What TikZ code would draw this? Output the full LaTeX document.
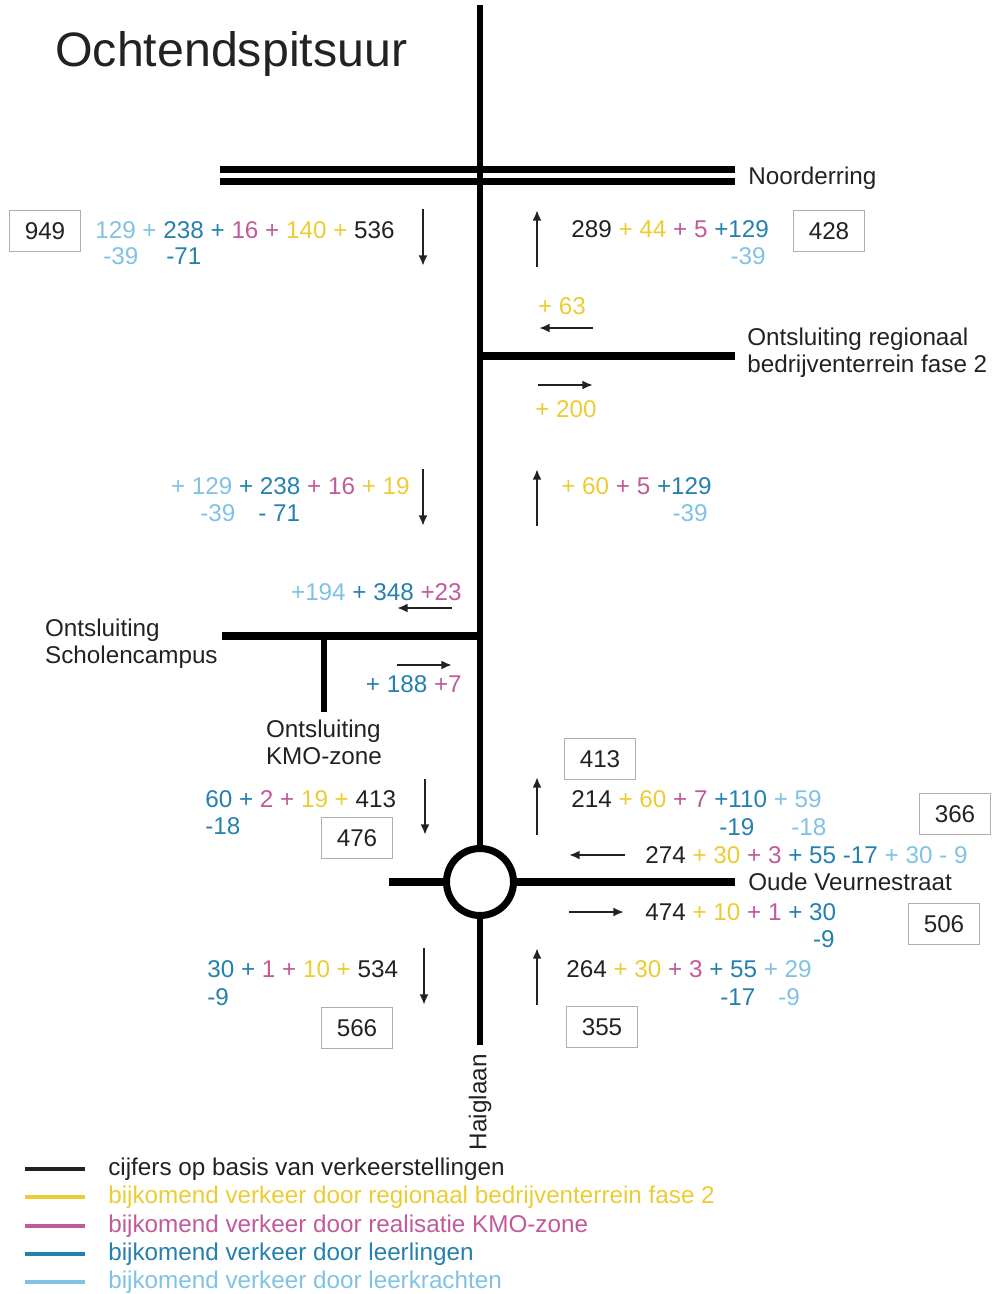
\documentclass[tikz,border=0pt]{standalone}
\usepackage{fontspec}
\setmainfont{Liberation Sans}
\usetikzlibrary{arrows.meta,positioning,calc}
\definecolor{FlowBlack}{RGB}{34,34,34}
\definecolor{FlowYellow}{RGB}{236,204,52}
\definecolor{FlowPink}{RGB}{192,90,155}
\definecolor{FlowTeal}{RGB}{36,128,172}
\definecolor{FlowSky}{RGB}{128,194,228}
\definecolor{BoxGrey}{RGB}{175,175,175}
\newcommand{\yl}[1]{\textcolor{FlowYellow}{#1}}
\newcommand{\pk}[1]{\textcolor{FlowPink}{#1}}
\newcommand{\tl}[1]{\textcolor{FlowTeal}{#1}}
\newcommand{\sk}[1]{\textcolor{FlowSky}{#1}}

\begin{document}
\begin{tikzpicture}[x=0.02cm,y=-0.02cm,
    road/.style={line width=4pt,black},
    mainroad/.style={line width=2.9pt,black},
    flow/.style={-{Latex[length=6pt,width=5pt]},line width=1.3pt,FlowBlack},
    num/.style={font=\fontsize{13.8}{16}\selectfont,inner sep=0pt,text=FlowBlack},
    roadlab/.style={font=\fontsize{13.8}{15.4}\selectfont,align=left,inner sep=0pt,text=FlowBlack},
    total/.style={draw=BoxGrey,line width=0.6pt,minimum width=1.42cm,minimum height=0.82cm,inner sep=0pt,font=\fontsize{13.8}{16}\selectfont,text=FlowBlack},
    legline/.style={line width=1.8pt}
  ]
    \useasboundingbox (0,0) rectangle (991,1294);

    \node[anchor=base west,inner sep=0pt,font=\fontsize{27.5}{30}\selectfont,text=FlowBlack] (title) at (55,67) {Ochtendspitsuur};

    % roads
    \coordinate (nTop) at (480,5);
    \coordinate (nrW) at (220,175.5);
    \coordinate (nrE) at (735,175.5);
    \coordinate (regW) at (480,356);
    \coordinate (regE) at (735,356);
    \coordinate (scW) at (222,636);
    \coordinate (scE) at (480,636);
    \coordinate (kmoN) at (324,636);
    \coordinate (kmoS) at (324,712);
    \coordinate (veW) at (389,882);
    \coordinate (veE) at (735,882);
    \coordinate (hgS) at (480,1045);
    \node[circle,draw,line width=4pt,minimum size=1.34cm,inner sep=0pt] (rb) at (480,882) {};

    \draw[line width=4pt,double=white,double distance=2.3pt] (nrW) -- (nrE);
    \draw[mainroad] (nTop) -- (rb.north);
    \draw[road] (regW) -- (regE);
    \draw[road] (scW) -- (scE);
    \draw[line width=3.4pt] (kmoN) -- (kmoS);
    \draw[road] (veW) -- (rb.west);
    \draw[road] (rb.east) -- (veE);
    \draw[line width=3.3pt] (rb.south) -- (hgS);

    \node[roadlab,right=0.26cm of nrE,yshift=-0.05cm] (nrLab) {Noorderring};
    \node[roadlab,right=0.24cm of regE,yshift=0.06cm] (regLab) {Ontsluiting regionaal\\bedrijventerrein fase 2};
    \node[roadlab,left=0.08cm of scW,yshift=-0.16cm] (scLab) {Ontsluiting\\Scholencampus};
    \node[roadlab,below=0.16cm of kmoS] (kmoLab) {Ontsluiting\\KMO-zone};
    \node[roadlab,right=0.26cm of veE] (veLab) {Oude Veurnestraat};
    \node[roadlab,rotate=90,anchor=east] (hgLab) at (480,1054) {Haiglaan};

    % flow arrows
    \foreach \n/\xa/\ya/\xb/\yb in {dA/423/209/423/266, dB/423/469/423/526, dC/425/779/425/835, dD/424/948/424/1005,
        uA/537/267/537/210, uB/537/526/537/469, uC/537/835/537/777, uD/537/1005/537/948,
        rgW/593/328/539/328, rgE/538/385/593/385, scWa/452/608/397/608, scEa/397/665/452/665,
        veWa/625/855/569/855, veEa/569/912/624/912} {
      \coordinate (\n a) at (\xa,\ya);
      \coordinate (\n b) at (\xb,\yb);
      \draw[flow] (\n a) -- (\n b);
    }

    % counts, north of Noorderring junction
    \node[total] (totNL) at (45,231) {949};
    \node[num,anchor=base east] (flowNL) at (395,238) {\sk{129 +} \tl{238 +} \pk{16 +} \yl{140 +} 536};
    \node[num,anchor=base west,text=FlowSky] (flowNLa) at (103,264) {-39};
    \node[num,anchor=base west,text=FlowTeal] (flowNLb) at (166,264) {-71};
    \node[total] (totNR) at (829,231) {428};
    \node[num,anchor=base west] (flowNR) at (571,237) {289 \yl{+ 44} \pk{+ 5} \tl{+129}};
    \node[num,anchor=base east,text=FlowSky] (flowNRa) at (766,264) {-39};

    \node[num,text=FlowYellow] (regIn) at (562,306) {+ 63};
    \node[num,text=FlowYellow] (regOut) at (566,409) {+ 200};

    % counts, between the two access roads
    \node[num,anchor=base east] (flowML) at (410,494) {\sk{+ 129} \tl{+ 238} \pk{+ 16} \yl{+ 19}};
    \node[num,anchor=base west,text=FlowSky] (flowMLa) at (200,521) {-39};
    \node[num,anchor=base west,text=FlowTeal] (flowMLb) at (258,521) {- 71};
    \node[num,anchor=base west] (flowMR) at (561,494) {\yl{+ 60} \pk{+ 5} \tl{+129}};
    \node[num,anchor=base east,text=FlowSky] (flowMRa) at (708,521) {-39};

    \node[num,anchor=base east] (scIn) at (462,600) {\sk{+194} \tl{+ 348} \pk{+23}};
    \node[num,anchor=base east] (scOut) at (462,692) {\tl{+ 188} \pk{+7}};

    % counts around the roundabout
    \node[num,anchor=base west] (flowSL) at (205,807) {\tl{60 +} \pk{2 +} \yl{19 +} 413};
    \node[num,anchor=base west,text=FlowTeal] (flowSLa) at (205,834) {-18};
    \node[total] (totSL) at (357,838) {476};
    \node[total] (totSR) at (600,759) {413};
    \node[num,anchor=base west] (flowSR) at (571,807) {214 \yl{+ 60} \pk{+ 7} \tl{+110} \sk{+ 59}};
    \node[num,anchor=base west,text=FlowTeal] (flowSRa) at (719,835) {-19};
    \node[num,anchor=base west,text=FlowSky] (flowSRb) at (791,835) {-18};
    \node[total] (totVeIn) at (955,814) {366};

    \node[num,anchor=base west] (veIn) at (645,863) {274 \yl{+ 30} \pk{+ 3} \tl{+ 55 -17} \sk{+ 30 - 9}};
    \node[num,anchor=base west] (veOut) at (645,920) {474 \yl{+ 10} \pk{+ 1} \tl{+ 30}};
    \node[num,anchor=base east,text=FlowTeal] (veOuta) at (835,947) {-9};
    \node[total] (totVeOut) at (944,924) {506};

    \node[num,anchor=base west] (flowHL) at (207,977) {\tl{30 +} \pk{1 +} \yl{10 +} 534};
    \node[num,anchor=base west,text=FlowTeal] (flowHLa) at (207,1005) {-9};
    \node[total] (totHL) at (357,1028) {566};
    \node[num,anchor=base west] (flowHR) at (566,977) {264 \yl{+ 30} \pk{+ 3} \tl{+ 55} \sk{+ 29}};
    \node[num,anchor=base west,text=FlowTeal] (flowHRa) at (720,1005) {-17};
    \node[num,anchor=base west,text=FlowSky] (flowHRb) at (778,1005) {-9};
    \node[total] (totHR) at (602,1027) {355};

    % legend
    \foreach \col/\txt/\y [count=\i] in {FlowBlack/cijfers op basis van verkeerstellingen/1169,
        FlowYellow/bijkomend verkeer door regionaal bedrijventerrein fase 2/1197,
        FlowPink/bijkomend verkeer door realisatie KMO-zone/1226,
        FlowTeal/bijkomend verkeer door leerlingen/1254,
        FlowSky/bijkomend verkeer door leerkrachten/1282} {
      \node[num,anchor=west,text=\col] (leg\i) at (108,\y) {\txt};
      \coordinate (legS\i) at (25,\y);
      \coordinate (legE\i) at (85,\y);
      \draw[legline,\col] (legS\i) -- (legE\i);
    }
  \end{tikzpicture}
\end{document}
